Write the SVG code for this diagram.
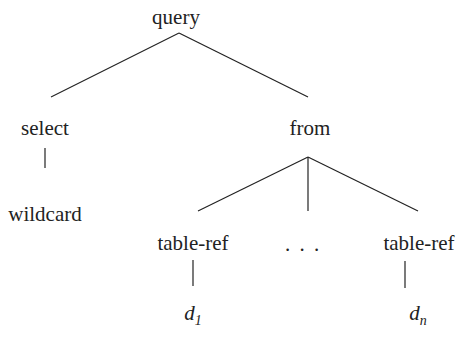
<svg xmlns="http://www.w3.org/2000/svg" width="456" height="338" viewBox="0 0 456 338">
<style>
text{font-family:'Liberation Serif','Times New Roman','DejaVu Serif',serif;font-size:21px;fill:#222;text-anchor:middle}
.e{stroke:#222;stroke-width:1.2;fill:none}
.i{font-style:italic}
</style>
<rect width="456" height="338" fill="#fff"/>
<g id="connectors">
<line class="e" x1="179" y1="33" x2="51" y2="97"/>
<line class="e" x1="179" y1="33" x2="308" y2="97"/>
<line class="e" x1="45" y1="148" x2="45" y2="168"/>
<line class="e" x1="308" y1="157" x2="198" y2="211"/>
<line class="e" x1="308" y1="157" x2="308" y2="211"/>
<line class="e" x1="308" y1="157" x2="418" y2="211"/>
<line class="e" x1="193" y1="260" x2="193" y2="286"/>
<line class="e" x1="405" y1="261" x2="405" y2="288"/>
</g>
<g id="query"><text x="176" y="24" font-family="Liberation Serif, serif">query</text></g>
<g id="select"><text x="45" y="135" font-family="Liberation Serif, serif">select</text></g>
<g id="from"><text x="310" y="135" font-family="Liberation Serif, serif">from</text></g>
<g id="wildcard"><text x="45" y="221" font-family="Liberation Serif, serif">wildcard</text></g>
<g id="tableref1"><text x="193" y="250" font-family="Liberation Serif, serif">table-ref</text></g>
<g id="dots"><text x="303" y="251" font-family="Liberation Serif, serif" letter-spacing="2">. . .</text></g>
<g id="tableref2"><text x="419" y="250" font-family="Liberation Serif, serif">table-ref</text></g>
<g id="d1"><text class="i" x="193" y="320" font-family="Liberation Serif, serif">d<tspan font-size="14" dy="5">1</tspan></text></g>
<g id="dn"><text class="i" x="418" y="320" font-family="Liberation Serif, serif">d<tspan font-size="14" dy="5">n</tspan></text></g>
</svg>
